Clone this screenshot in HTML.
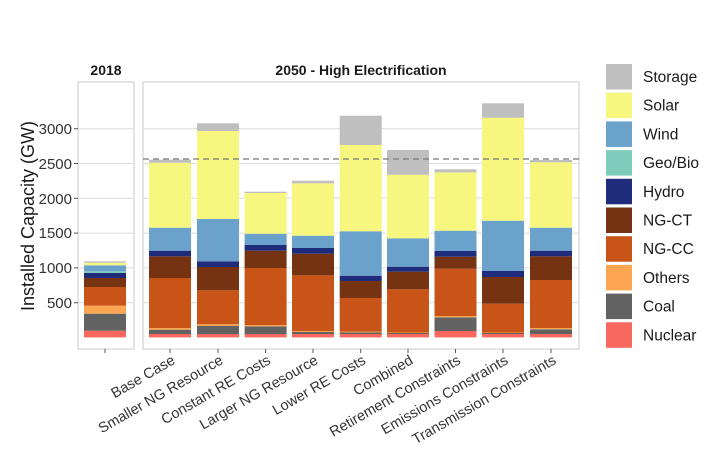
<!DOCTYPE html>
<html><head><meta charset="utf-8"><style>
html,body{margin:0;padding:0;background:#fff;}
svg{display:block;font-family:"Liberation Sans",Arial,sans-serif;}
</style></head><body>
<svg width="720" height="468" viewBox="0 0 720 468" xmlns="http://www.w3.org/2000/svg">
<rect width="720" height="468" fill="#fff"/>
<rect x="78" y="82" width="56" height="267" fill="#fff" stroke="#c8c8c8" stroke-width="1"/>
<rect x="143" y="82" width="436" height="267" fill="#fff" stroke="#c8c8c8" stroke-width="1"/>
<g stroke="#dcdcdc" stroke-width="1">
<line x1="78" x2="134" y1="302.7" y2="302.7"/><line x1="78" x2="134" y1="267.9" y2="267.9"/><line x1="78" x2="134" y1="233.1" y2="233.1"/><line x1="78" x2="134" y1="198.3" y2="198.3"/><line x1="78" x2="134" y1="163.5" y2="163.5"/><line x1="78" x2="134" y1="128.7" y2="128.7"/>
<line x1="143" x2="579" y1="302.7" y2="302.7"/><line x1="143" x2="579" y1="267.9" y2="267.9"/><line x1="143" x2="579" y1="233.1" y2="233.1"/><line x1="143" x2="579" y1="198.3" y2="198.3"/><line x1="143" x2="579" y1="163.5" y2="163.5"/><line x1="143" x2="579" y1="128.7" y2="128.7"/>
</g>
<g font-weight="bold" font-size="14" text-anchor="middle" fill="#1a1a1a">
<text x="106" y="75">2018</text><text x="361" y="75">2050 - High Electrification</text>
</g>
<g font-size="15" text-anchor="end" fill="#333">
<text x="72" y="308">500</text><text x="72" y="273">1000</text><text x="72" y="238">1500</text><text x="72" y="204">2000</text><text x="72" y="169">2500</text><text x="72" y="134">3000</text>
</g>
<g stroke="#555"><line x1="74" x2="78" y1="302.7" y2="302.7"/><line x1="74" x2="78" y1="267.9" y2="267.9"/><line x1="74" x2="78" y1="233.1" y2="233.1"/><line x1="74" x2="78" y1="198.3" y2="198.3"/><line x1="74" x2="78" y1="163.5" y2="163.5"/><line x1="74" x2="78" y1="128.7" y2="128.7"/></g>
<text transform="translate(34,216) rotate(-90)" font-size="18" text-anchor="middle" fill="#1a1a1a">Installed Capacity (GW)</text>

<g>
<rect x="84" y="330.7" width="42" height="6.7" fill="#F8685E"/>
<rect x="84" y="313.7" width="42" height="17" fill="#626262"/>
<rect x="84" y="305.7" width="42" height="8" fill="#FCA652"/>
<rect x="84" y="287" width="42" height="18.7" fill="#C85418"/>
<rect x="84" y="278" width="42" height="9" fill="#763312"/>
<rect x="84" y="273" width="42" height="5" fill="#1E2C7B"/>
<rect x="84" y="271.3" width="42" height="1.7" fill="#7DCDBA"/>
<rect x="84" y="265.3" width="42" height="6" fill="#6BA2CB"/>
<rect x="84" y="262.7" width="42" height="2.6" fill="#F7F67E"/>
<rect x="84" y="261.3" width="42" height="1.4" fill="#BFBFBF"/>
</g>
<g>
<rect x="149" y="334" width="42" height="3.4" fill="#F8685E"/>
<rect x="149" y="329.7" width="42" height="4.3" fill="#626262"/>
<rect x="149" y="328" width="42" height="1.7" fill="#FCA652"/>
<rect x="149" y="278" width="42" height="50" fill="#C85418"/>
<rect x="149" y="256.3" width="42" height="21.7" fill="#763312"/>
<rect x="149" y="250.7" width="42" height="5.6" fill="#1E2C7B"/>
<rect x="149" y="227.7" width="42" height="23" fill="#6BA2CB"/>
<rect x="149" y="162.7" width="42" height="65" fill="#F7F67E"/>
<rect x="149" y="159.7" width="42" height="3" fill="#BFBFBF"/>
</g>
<g>
<rect x="197" y="334" width="42" height="3.4" fill="#F8685E"/>
<rect x="197" y="326" width="42" height="8" fill="#626262"/>
<rect x="197" y="324.3" width="42" height="1.7" fill="#FCA652"/>
<rect x="197" y="290.3" width="42" height="34" fill="#C85418"/>
<rect x="197" y="267" width="42" height="23.3" fill="#763312"/>
<rect x="197" y="261.3" width="42" height="5.7" fill="#1E2C7B"/>
<rect x="197" y="219" width="42" height="42.3" fill="#6BA2CB"/>
<rect x="197" y="131" width="42" height="88" fill="#F7F67E"/>
<rect x="197" y="123.3" width="42" height="7.7" fill="#BFBFBF"/>
</g>
<g>
<rect x="244.6" y="334" width="42" height="3.4" fill="#F8685E"/>
<rect x="244.6" y="326.3" width="42" height="7.7" fill="#626262"/>
<rect x="244.6" y="325" width="42" height="1.3" fill="#FCA652"/>
<rect x="244.6" y="268" width="42" height="57" fill="#C85418"/>
<rect x="244.6" y="250.7" width="42" height="17.3" fill="#763312"/>
<rect x="244.6" y="245" width="42" height="5.7" fill="#1E2C7B"/>
<rect x="244.6" y="233.7" width="42" height="11.3" fill="#6BA2CB"/>
<rect x="244.6" y="193" width="42" height="40.7" fill="#F7F67E"/>
<rect x="244.6" y="191.7" width="42" height="1.3" fill="#BFBFBF"/>
</g>
<g>
<rect x="292" y="334" width="42" height="3.4" fill="#F8685E"/>
<rect x="292" y="332" width="42" height="2" fill="#626262"/>
<rect x="292" y="331" width="42" height="1" fill="#FCA652"/>
<rect x="292" y="275.3" width="42" height="55.7" fill="#C85418"/>
<rect x="292" y="253.7" width="42" height="21.6" fill="#763312"/>
<rect x="292" y="248" width="42" height="5.7" fill="#1E2C7B"/>
<rect x="292" y="235.7" width="42" height="12.3" fill="#6BA2CB"/>
<rect x="292" y="183.3" width="42" height="52.4" fill="#F7F67E"/>
<rect x="292" y="180.7" width="42" height="2.6" fill="#BFBFBF"/>
</g>
<g>
<rect x="339.7" y="334" width="42" height="3.4" fill="#F8685E"/>
<rect x="339.7" y="332.5" width="42" height="1.5" fill="#626262"/>
<rect x="339.7" y="331.7" width="42" height="0.8" fill="#FCA652"/>
<rect x="339.7" y="298" width="42" height="33.7" fill="#C85418"/>
<rect x="339.7" y="281" width="42" height="17" fill="#763312"/>
<rect x="339.7" y="275.7" width="42" height="5.3" fill="#1E2C7B"/>
<rect x="339.7" y="231.3" width="42" height="44.4" fill="#6BA2CB"/>
<rect x="339.7" y="145" width="42" height="86.3" fill="#F7F67E"/>
<rect x="339.7" y="115.7" width="42" height="29.3" fill="#BFBFBF"/>
</g>
<g>
<rect x="387" y="334" width="42" height="3.4" fill="#F8685E"/>
<rect x="387" y="333" width="42" height="1" fill="#626262"/>
<rect x="387" y="332.5" width="42" height="0.5" fill="#FCA652"/>
<rect x="387" y="289.3" width="42" height="43.2" fill="#C85418"/>
<rect x="387" y="271.7" width="42" height="17.6" fill="#763312"/>
<rect x="387" y="266.7" width="42" height="5" fill="#1E2C7B"/>
<rect x="387" y="238.3" width="42" height="28.4" fill="#6BA2CB"/>
<rect x="387" y="174.7" width="42" height="63.6" fill="#F7F67E"/>
<rect x="387" y="150" width="42" height="24.7" fill="#BFBFBF"/>
</g>
<g>
<rect x="434.5" y="331" width="42" height="6.4" fill="#F8685E"/>
<rect x="434.5" y="317.3" width="42" height="13.7" fill="#626262"/>
<rect x="434.5" y="316" width="42" height="1.3" fill="#FCA652"/>
<rect x="434.5" y="268.7" width="42" height="47.3" fill="#C85418"/>
<rect x="434.5" y="256.7" width="42" height="12" fill="#763312"/>
<rect x="434.5" y="251" width="42" height="5.7" fill="#1E2C7B"/>
<rect x="434.5" y="230.7" width="42" height="20.3" fill="#6BA2CB"/>
<rect x="434.5" y="172.3" width="42" height="58.4" fill="#F7F67E"/>
<rect x="434.5" y="169.3" width="42" height="3" fill="#BFBFBF"/>
</g>
<g>
<rect x="482" y="334" width="42" height="3.4" fill="#F8685E"/>
<rect x="482" y="333" width="42" height="1" fill="#626262"/>
<rect x="482" y="332.5" width="42" height="0.5" fill="#FCA652"/>
<rect x="482" y="303.7" width="42" height="28.8" fill="#C85418"/>
<rect x="482" y="277" width="42" height="26.7" fill="#763312"/>
<rect x="482" y="271" width="42" height="6" fill="#1E2C7B"/>
<rect x="482" y="220.7" width="42" height="50.3" fill="#6BA2CB"/>
<rect x="482" y="117.7" width="42" height="103" fill="#F7F67E"/>
<rect x="482" y="103.3" width="42" height="14.4" fill="#BFBFBF"/>
</g>
<g>
<rect x="530" y="334" width="42" height="3.4" fill="#F8685E"/>
<rect x="530" y="329.3" width="42" height="4.7" fill="#626262"/>
<rect x="530" y="328" width="42" height="1.3" fill="#FCA652"/>
<rect x="530" y="280" width="42" height="48" fill="#C85418"/>
<rect x="530" y="256.3" width="42" height="23.7" fill="#763312"/>
<rect x="530" y="250.7" width="42" height="5.6" fill="#1E2C7B"/>
<rect x="530" y="227.7" width="42" height="23" fill="#6BA2CB"/>
<rect x="530" y="162.3" width="42" height="65.4" fill="#F7F67E"/>
<rect x="530" y="160" width="42" height="2.3" fill="#BFBFBF"/>
</g>

<line x1="143" x2="579" y1="159" y2="159" stroke="#777" stroke-width="1.3" stroke-dasharray="6,4"/>

<g stroke="#555">
<line x1="105" x2="105" y1="349" y2="353"/><line x1="170" x2="170" y1="349" y2="353"/><line x1="218" x2="218" y1="349" y2="353"/><line x1="265.6" x2="265.6" y1="349" y2="353"/><line x1="313" x2="313" y1="349" y2="353"/><line x1="360.7" x2="360.7" y1="349" y2="353"/><line x1="408" x2="408" y1="349" y2="353"/><line x1="455.5" x2="455.5" y1="349" y2="353"/><line x1="503" x2="503" y1="349" y2="353"/><line x1="551" x2="551" y1="349" y2="353"/>
</g>
<g font-size="14.5" fill="#333" text-anchor="end">
<text transform="translate(176,363) rotate(-30)">Base Case</text>
<text transform="translate(224,363) rotate(-30)">Smaller NG Resource</text>
<text transform="translate(271.6,363) rotate(-30)">Constant RE Costs</text>
<text transform="translate(319,363) rotate(-30)">Larger NG Resource</text>
<text transform="translate(366.7,363) rotate(-30)">Lower RE Costs</text>
<text transform="translate(414,363) rotate(-30)">Combined</text>
<text transform="translate(461.5,363) rotate(-30)">Retirement Constraints</text>
<text transform="translate(509,363) rotate(-30)">Emissions Constraints</text>
<text transform="translate(557,363) rotate(-30)">Transmission Constraints</text>
</g>

<g font-size="15.5" fill="#1a1a1a">
<rect x="606" y="64" width="26" height="25.5" fill="#BFBFBF"/><text x="643" y="82">Storage</text>
<rect x="606" y="92.7" width="26" height="25.5" fill="#F7F67E"/><text x="643" y="110.7">Solar</text>
<rect x="606" y="121.4" width="26" height="25.5" fill="#6BA2CB"/><text x="643" y="139.4">Wind</text>
<rect x="606" y="150.1" width="26" height="25.5" fill="#7DCDBA"/><text x="643" y="168.1">Geo/Bio</text>
<rect x="606" y="178.8" width="26" height="25.5" fill="#1E2C7B"/><text x="643" y="196.8">Hydro</text>
<rect x="606" y="207.5" width="26" height="25.5" fill="#763312"/><text x="643" y="225.5">NG-CT</text>
<rect x="606" y="236.2" width="26" height="25.5" fill="#C85418"/><text x="643" y="254.2">NG-CC</text>
<rect x="606" y="264.9" width="26" height="25.5" fill="#FCA652"/><text x="643" y="282.9">Others</text>
<rect x="606" y="293.6" width="26" height="25.5" fill="#626262"/><text x="643" y="311.6">Coal</text>
<rect x="606" y="322.3" width="26" height="25.5" fill="#F8685E"/><text x="643" y="340.3">Nuclear</text>
</g>
</svg>
</body></html>
